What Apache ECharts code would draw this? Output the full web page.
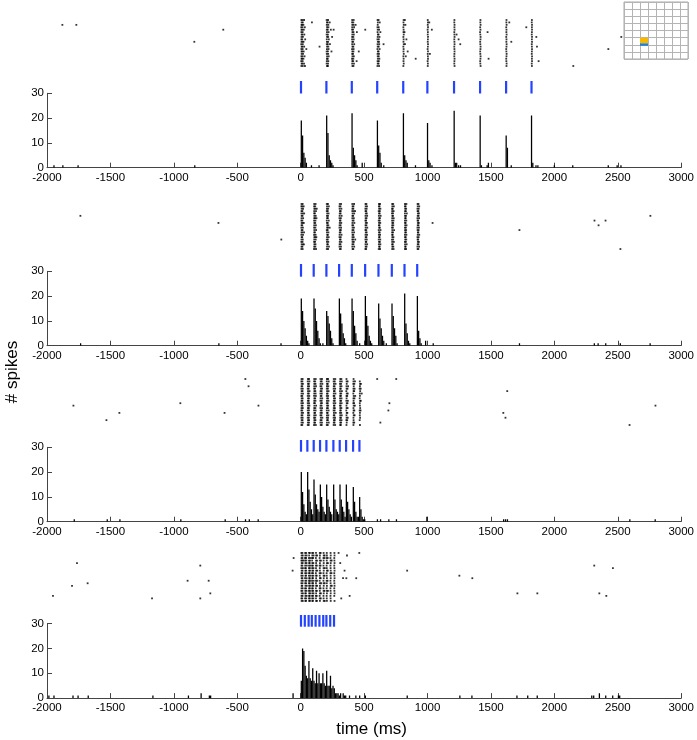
<!DOCTYPE html>
<html><head><meta charset="utf-8">
<script src="https://cdn.jsdelivr.net/npm/echarts@6/dist/echarts.min.js"></script>
<style>html,body{margin:0;padding:0;background:#fff}#c{width:697px;height:740px}</style>
</head><body><div id="c"></div>
<script>
// ---------------- DATA ----------------
const xTicks = [-2000, -1500, -1000, -500, 0, 500, 1000, 1500, 2000, 2500, 3000];
const yTicks = [0, 10, 20, 30];
const binWidth = 10; // ms per histogram bin

// stimulus pulse onsets (ms)
const stim1 = [0, 200, 400, 600, 805, 995, 1205, 1410, 1615, 1815];
const stim2 = [0, 100, 200, 300, 400, 505, 610, 715, 815, 915];
const stim3 = [0, 50, 100, 150, 200, 255, 305, 355, 410, 460];
const stim4 = [0, 30, 60, 85, 115, 145, 175, 200, 230, 260];

// raster: one array of spike times per trial (top row first)
const raster1 = [
 [3,11,24,202,213,403,415,603,611,808,818,998,1208,1413,1618,1818],
 [5,14,86,204,210,226,402,412,605,620,807,999,1010,1207,1412,1617,1640,1817],
 [-1879,-1769,4,9,19,203,215,404,414,430,604,809,822,998,1209,1414,1619,1819],
 [2,12,30,205,216,403,418,602,612,806,1000,1208,1411,1616,1774,1818],
 [-612,4,10,22,203,211,235,257,402,410,506,604,615,808,997,1030,1209,1413,1618,1819],
 [3,13,204,217,405,413,440,603,625,807,815,999,1207,1410,1469,1617,1818],
 [5,11,26,202,212,404,416,605,611,809,998,1208,1225,1412,1619,1817],
 [4,15,205,214,245,403,412,604,618,806,1000,1209,1414,1616,1819,1853,2522],
 [3,10,33,203,219,402,415,602,613,808,830,999,1207,1241,1413,1618,1818],
 [-840,4,12,20,204,213,404,411,605,614,807,998,1208,1411,1617,1656,1819],
 [2,14,203,211,228,403,419,603,616,650,809,819,1000,1209,1254,1412,1619,1817],
 [5,11,25,146,205,215,405,412,604,612,806,999,1207,1414,1618,1818,1858],
 [3,13,42,204,217,402,414,602,619,808,997,1208,1413,1616,1819,2420],
 [4,10,21,202,212,240,404,413,455,605,611,807,840,1000,1209,1411,1617,1818],
 [5,16,203,214,403,410,603,614,809,998,1015,1208,1412,1619,1817],
 [3,12,28,205,218,405,416,604,612,806,825,999,1207,1414,1618,1819],
 [4,9,19,204,211,402,412,605,617,808,903,1000,1209,1413,1477,1616,1818],
 [2,13,203,215,404,411,438,603,613,807,997,1208,1411,1617,1819,1871],
 [5,11,24,202,213,403,417,604,611,809,999,1207,1412,1619,1817],
 [3,14,31,205,212,405,413,602,615,806,998,1209,1414,1618,1818,2144]
];
const raster2 = [
 [4,13,104,115,203,212,305,316,404,418,508,515,614,622,718,726,819,830,918,925],
 [3,10,21,103,112,205,219,303,311,406,413,509,520,613,619,719,731,818,824,919,931],
 [5,16,105,113,124,204,214,304,318,405,412,507,517,615,625,717,723,820,828,917,927],
 [4,11,104,118,203,211,306,313,404,415,426,508,514,612,621,718,729,819,826,918,924],
 [3,14,25,103,110,206,217,305,312,406,419,510,518,614,620,716,725,818,833,920,929],
 [-1737,5,12,105,116,204,213,304,320,405,411,508,521,613,627,719,724,819,827,919,926,2751],
 [4,17,104,111,122,205,212,303,314,404,416,509,516,615,622,718,730,820,825,917,930],
 [3,11,103,114,203,218,306,311,406,414,507,513,612,620,717,728,818,829,918,923,2311,2398],
 [-650,5,13,22,105,112,204,211,305,317,405,420,510,519,614,624,719,726,819,824,920,928,1036],
 [4,10,104,117,206,215,304,312,404,411,508,515,613,618,718,727,820,831,919,925,2343],
 [3,15,103,113,205,213,226,303,316,406,417,509,522,615,621,716,724,818,826,917,929],
 [5,12,105,119,203,210,306,314,405,413,507,514,612,626,719,733,819,828,918,926,1720],
 [4,11,24,104,110,204,216,305,311,404,418,510,517,614,620,717,725,820,827,920,924],
 [3,16,103,115,206,212,304,319,406,412,508,520,613,623,718,722,818,830,919,931],
 [5,10,105,112,121,205,218,303,313,405,415,509,515,615,619,719,728,819,825,917,926],
 [-155,4,14,104,116,203,211,306,312,404,411,427,507,518,612,624,716,726,820,829,918,923],
 [3,12,103,111,204,215,305,318,406,416,510,514,614,621,718,731,818,826,920,928],
 [5,15,23,105,114,206,212,304,311,405,413,508,521,613,625,717,723,819,832,919,925],
 [4,11,104,113,205,220,303,315,404,419,509,516,615,620,719,727,820,824,917,930],
 [3,13,103,118,203,213,306,313,406,412,507,513,612,622,718,729,818,827,918,924,2515]
];
const raster3 = [
 [-438,4,13,54,63,104,116,153,165,204,213,258,270,309,318,358,414,600,750],
 [3,11,53,66,103,112,155,163,203,218,257,266,308,321,359,367,413,425,463],
 [5,15,55,62,105,114,154,168,205,211,259,272,307,316,360,412,420,465,472],
 [-413,4,10,54,64,104,118,153,161,204,215,258,264,309,319,358,371,415,464],
 [3,14,53,61,103,111,156,166,203,212,257,269,308,314,359,366,413,422,462,470],
 [5,12,55,67,105,113,154,162,205,217,259,265,307,322,357,414,419,466,1624],
 [4,16,54,62,104,115,153,164,204,210,258,271,309,317,360,368,412,463,478],
 [3,10,53,65,103,117,155,161,203,214,257,263,308,315,358,364,415,427,464],
 [5,13,55,63,105,112,154,167,205,213,259,268,307,319,359,413,421,462],
 [4,11,54,61,104,114,153,163,204,216,258,266,309,316,357,369,414,465,471],
 [-950,3,15,53,64,103,110,156,165,203,211,257,270,308,320,360,366,412,418,463,696],
 [-1792,-335,5,12,55,66,105,119,154,162,205,214,259,264,307,313,358,415,424,464,2791],
 [4,14,54,62,104,113,153,166,204,212,258,267,309,318,359,367,413,466],
 [3,10,53,63,103,115,155,163,203,217,257,265,308,314,357,414,420,462,469,688],
 [-1430,-602,5,16,55,61,105,111,154,164,205,210,259,273,307,317,360,365,412,464,1593],
 [4,11,54,65,104,116,153,161,204,215,258,263,309,321,358,415,422,463],
 [3,13,53,62,103,112,156,168,203,213,257,268,308,315,359,368,413,465,1610],
 [-1532,5,12,55,64,105,114,154,162,205,212,259,266,307,319,357,364,414,462],
 [4,15,54,63,104,111,153,165,204,218,258,264,309,316,360,412,419,625],
 [3,10,53,61,103,117,155,163,203,211,257,269,308,314,358,413,464,2587]
];
const raster4 = [
 [3,11,33,41,63,70,88,96,118,148,155,178,203,233,263,296,459],
 [5,14,34,44,64,89,99,119,127,149,179,186,204,234,264,362],
 [-58,4,12,32,40,62,72,87,95,117,147,177,184,202,210,232,262],
 [3,10,19,33,42,63,71,88,118,126,148,157,178,203,233,241,263],
 [-1764,5,13,35,43,64,69,89,97,119,149,179,204,212,234,264,309],
 [-793,4,11,33,45,63,73,87,94,117,125,147,154,177,202,232,262,2309],
 [3,15,32,39,62,70,88,98,118,148,178,187,203,233,263,2456],
 [-66,5,12,34,41,64,71,89,96,119,128,149,179,204,211,234,264,343,836],
 [4,10,33,43,63,69,87,95,117,147,156,177,202,232,240,262],
 [3,13,35,40,62,72,88,97,118,124,148,178,185,203,233,263,1247],
 [5,11,32,44,64,70,89,94,119,149,155,179,204,234,264,331,357,435,1349],
 [-893,-727,4,14,34,42,63,71,87,99,117,126,147,177,202,209,232,262],
 [-1680,3,12,33,41,62,69,88,95,118,148,158,178,186,203,233,263],
 [-1803,5,10,35,45,64,73,89,97,119,127,149,179,204,234,242,264],
 [4,13,32,40,63,70,87,94,117,147,154,177,202,232,262],
 [3,11,34,43,62,71,88,96,118,125,148,178,184,203,212,233,263],
 [-714,5,15,33,39,64,72,89,98,119,149,157,179,204,234,264,1704,1861,2349],
 [-1953,4,12,35,44,63,69,87,95,117,124,147,177,202,232,262,383,2404],
 [-1173,-793,3,10,32,41,62,70,88,97,118,148,156,178,203,233,317],
 [5,14,34,40,64,71,89,94,119,126,149,179,187,204,234,264]
];

// histograms: [bin start (ms), spike count]
const hist1 = [
 [-1950,1],[-1880,1],[-1760,1],[-840,1],
 [0,19],[10,13],[20,6],[30,4],[40,2],[80,1],[140,1],
 [200,21],[210,14],[220,5],[230,3],[240,2],[250,1],
 [400,22],[410,8],[420,5],[430,3],[440,1],[480,2],
 [600,19],[610,9],[620,6],[630,2],[650,1],
 [805,22],[815,5],[825,3],[835,2],[900,1],
 [995,18],[1005,3],[1015,2],[1030,1],
 [1205,23],[1215,2],[1225,2],[1240,1],[1255,1],
 [1410,21],[1420,1],[1465,1],[1475,2],
 [1615,13],[1625,8],[1655,1],
 [1815,21],[1825,2],[1850,1],[1865,1],[1995,1],
 [2140,1],[2420,1],[2490,1],[2520,1]
];
const hist2 = [
 [-1740,1],[-650,1],[-160,1],
 [0,19],[10,14],[20,10],[30,7],[40,4],[50,2],[60,1],
 [100,19],[110,15],[120,10],[130,6],[140,3],[150,1],[170,1],
 [200,14],[210,12],[220,9],[230,6],[240,3],[250,1],
 [300,19],[310,13],[320,9],[330,5],[340,3],[350,1],
 [400,19],[410,14],[420,8],[430,5],[440,2],[460,1],
 [505,20],[515,12],[525,8],[535,4],[545,2],[555,1],
 [610,17],[620,11],[630,7],[640,4],[650,2],[670,1],
 [715,17],[725,12],[735,7],[745,4],[755,1],
 [815,21],[825,9],[835,5],[845,2],[855,1],
 [915,20],[925,6],[935,3],[945,1],[980,2],[1040,1],
 [1720,1],[2310,1],[2340,1],[2400,1],[2515,1],[2750,1]
];
const hist3 = [
 [-1790,1],[-1530,1],[-1430,1],[-950,1],[-600,1],[-440,1],[-410,1],[-340,1],
 [0,20],[10,12],[20,7],[30,4],[40,3],
 [50,20],[60,13],[70,8],[80,5],[90,3],
 [100,17],[110,11],[120,7],[130,5],[140,4],
 [150,15],[160,10],[170,6],[180,4],[190,3],
 [200,15],[210,9],[220,6],[230,4],[240,3],
 [255,15],[265,9],[275,5],[285,4],[295,3],
 [305,15],[315,9],[325,6],[335,4],[345,2],
 [355,15],[365,8],[375,5],[385,3],[395,2],
 [410,14],[420,8],[430,4],[440,2],[450,2],
 [460,10],[470,5],[480,2],[490,1],[500,1],
 [600,1],[625,1],[690,1],[750,1],[990,2],[1595,1],[1610,1],[1625,1],[2590,1],[2790,1]
];
const hist4 = [
 [-1990,1],[-1950,1],[-1800,1],[-1760,1],[-1680,1],[-1170,1],[-890,1],[-790,2],[-725,1],[-715,1],[-65,2],
 [0,7],[10,20],[20,19],[30,13],[40,9],[50,8],[60,15],[70,8],[80,7],[90,12],[100,7],[110,6],
 [120,11],[130,6],[140,10],[150,6],[160,6],[170,10],[180,6],[190,5],[200,11],[210,5],[220,5],
 [230,9],[240,4],[250,5],[260,4],[270,2],[280,2],[290,2],[300,1],[310,2],[330,2],[340,1],[350,1],
 [380,1],[430,1],[460,1],[505,1],
 [835,1],[1250,1],[1345,1],[1700,1],[1785,1],[1860,1],[2290,1],[2305,1],[2350,2],[2400,1],[2455,1],[2500,1],[2510,1]
];

// electrode-grid inset: highlighted cell [column, row]
const insetSize = 8;
const insetCell = [2, 5];

// ---------------- LAYOUT / STYLE ----------------
const L = 47, W = 635;
const layout = [
 {raster:[18.8,48.4], stim:[81,12.5], hist:[93.3,74.4]},
 {raster:[202.8,47.4], stim:[264,12.7], hist:[271.3,74.4]},
 {raster:[377.8,48.4], stim:[440,11.7], hist:[447.3,74.4]},
 {raster:[551.7,50.5], stim:[615,11.7], hist:[623.7,74.4]}
];
const panels = [
 {stim:stim1, raster:raster1, hist:hist1},
 {stim:stim2, raster:raster2, hist:hist2},
 {stim:stim3, raster:raster3, hist:hist3},
 {stim:stim4, raster:raster4, hist:hist4}
];
const FONT = 'Liberation Sans';
const grid = [], xAxis = [], yAxis = [], series = [];
const hiddenX = () => ({type:'value', min:xTicks[0], max:xTicks[xTicks.length-1], show:false});
const plain = v => String(v);

panels.forEach((p, k) => {
  const lay = layout[k];
  // raster grid
  let gi = grid.length;
  grid.push({left:L, width:W, top:lay.raster[0], height:lay.raster[1]});
  xAxis.push(Object.assign(hiddenX(), {gridIndex:gi}));
  yAxis.push({type:'value', gridIndex:gi, min:0.5, max:p.raster.length+0.5, inverse:true, show:false});
  const pts = [];
  p.raster.forEach((row, i) => row.forEach(t => pts.push([t, i+1])));
  series.push({type:'scatter', xAxisIndex:gi, yAxisIndex:gi, data:pts, symbol:'rect', symbolSize:1.8,
    itemStyle:{color:'#000'}, silent:true});
  // stimulus grid
  gi = grid.length;
  grid.push({left:L, width:W, top:lay.stim[0], height:lay.stim[1]});
  xAxis.push(Object.assign(hiddenX(), {gridIndex:gi}));
  yAxis.push({type:'value', gridIndex:gi, min:0, max:1, show:false});
  series.push({type:'custom', xAxisIndex:gi, yAxisIndex:gi, data:p.stim.map(t=>[t,1]), silent:true,
    renderItem:(params, api) => {
      const a = api.coord([api.value(0), 1]), b = api.coord([api.value(0), 0]);
      return {type:'rect', shape:{x:a[0]-1.1, y:a[1], width:2.2, height:b[1]-a[1]}, style:{fill:'#2343ff'}};
    }});
  // histogram grid
  gi = grid.length;
  grid.push({left:L, width:W, top:lay.hist[0], height:lay.hist[1]});
  xAxis.push({type:'value', gridIndex:gi, min:xTicks[0], max:xTicks[xTicks.length-1], interval:xTicks[1]-xTicks[0],
    axisLine:{show:true, onZero:false, lineStyle:{color:'#444', width:1}},
    axisTick:{show:true, inside:true, length:5, lineStyle:{color:'#444'}},
    axisLabel:{show:true, margin:4, color:'#000', fontFamily:FONT, fontSize:11.5, showMinLabel:true, showMaxLabel:true, formatter:plain},
    splitLine:{show:false},
    name: k===3 ? 'time (ms)' : '', nameLocation:'middle', nameGap:23,
    nameTextStyle:{fontFamily:FONT, fontSize:17, color:'#000', padding:[0,0,0,15]}});
  yAxis.push({type:'value', gridIndex:gi, min:yTicks[0], max:yTicks[yTicks.length-1], interval:yTicks[1]-yTicks[0],
    axisLine:{show:true, onZero:false, lineStyle:{color:'#444', width:1}},
    axisTick:{show:true, inside:true, length:5, lineStyle:{color:'#444'}},
    axisLabel:{show:true, margin:3, color:'#000', fontFamily:FONT, fontSize:11.5, formatter:plain},
    splitLine:{show:false}});
  series.push({type:'custom', xAxisIndex:gi, yAxisIndex:gi, data:p.hist, silent:true, clip:true,
    renderItem:(params, api) => {
      const t = api.value(0), c = api.value(1);
      const a = api.coord([t, c]), b = api.coord([t+binWidth, 0]);
      return {type:'rect', shape:{x:a[0], y:a[1], width:Math.max(b[0]-a[0],1), height:b[1]-a[1]}, style:{fill:'#000'}};
    }});
});

// inset electrode grid
const ii = grid.length;
grid.push({left:624, top:2, width:64, height:57, show:true, borderColor:'#a8a8a8', borderWidth:1, backgroundColor:'#fff', z:5});
xAxis.push({type:'value', gridIndex:ii, min:0, max:insetSize, interval:1, axisLine:{show:false}, axisTick:{show:false},
  axisLabel:{show:false}, splitLine:{show:true, lineStyle:{color:'#b4b4b4', width:1}}, z:5});
yAxis.push({type:'value', gridIndex:ii, min:0, max:insetSize, interval:1, inverse:true, axisLine:{show:false}, axisTick:{show:false},
  axisLabel:{show:false}, splitLine:{show:true, lineStyle:{color:'#b4b4b4', width:1}}, z:5});
series.push({type:'custom', xAxisIndex:ii, yAxisIndex:ii, data:[insetCell], silent:true, z:6,
  renderItem:(params, api) => {
    const c = api.value(0), r = api.value(1);
    const a = api.coord([c, r]), b = api.coord([c+1, r+0.8]), d = api.coord([c+1, r+1.15]);
    return {type:'group', children:[
      {type:'rect', shape:{x:a[0], y:a[1], width:b[0]-a[0], height:b[1]-a[1]}, style:{fill:'#f6b900'}},
      {type:'rect', shape:{x:a[0], y:b[1], width:b[0]-a[0], height:d[1]-b[1]}, style:{fill:'#1f7fd4'}}
    ]};
  }});

const chart = echarts.init(document.getElementById('c'), null, {renderer:'canvas'});
chart.setOption({
  animation:false,
  backgroundColor:'#fff',
  grid, xAxis, yAxis, series,
  graphic:[{type:'text', x:12, y:372, rotation:Math.PI/2,
    style:{text:'# spikes', font:'17px "Liberation Sans"', fill:'#000', align:'center', verticalAlign:'middle'}}]
});
</script></body></html>
